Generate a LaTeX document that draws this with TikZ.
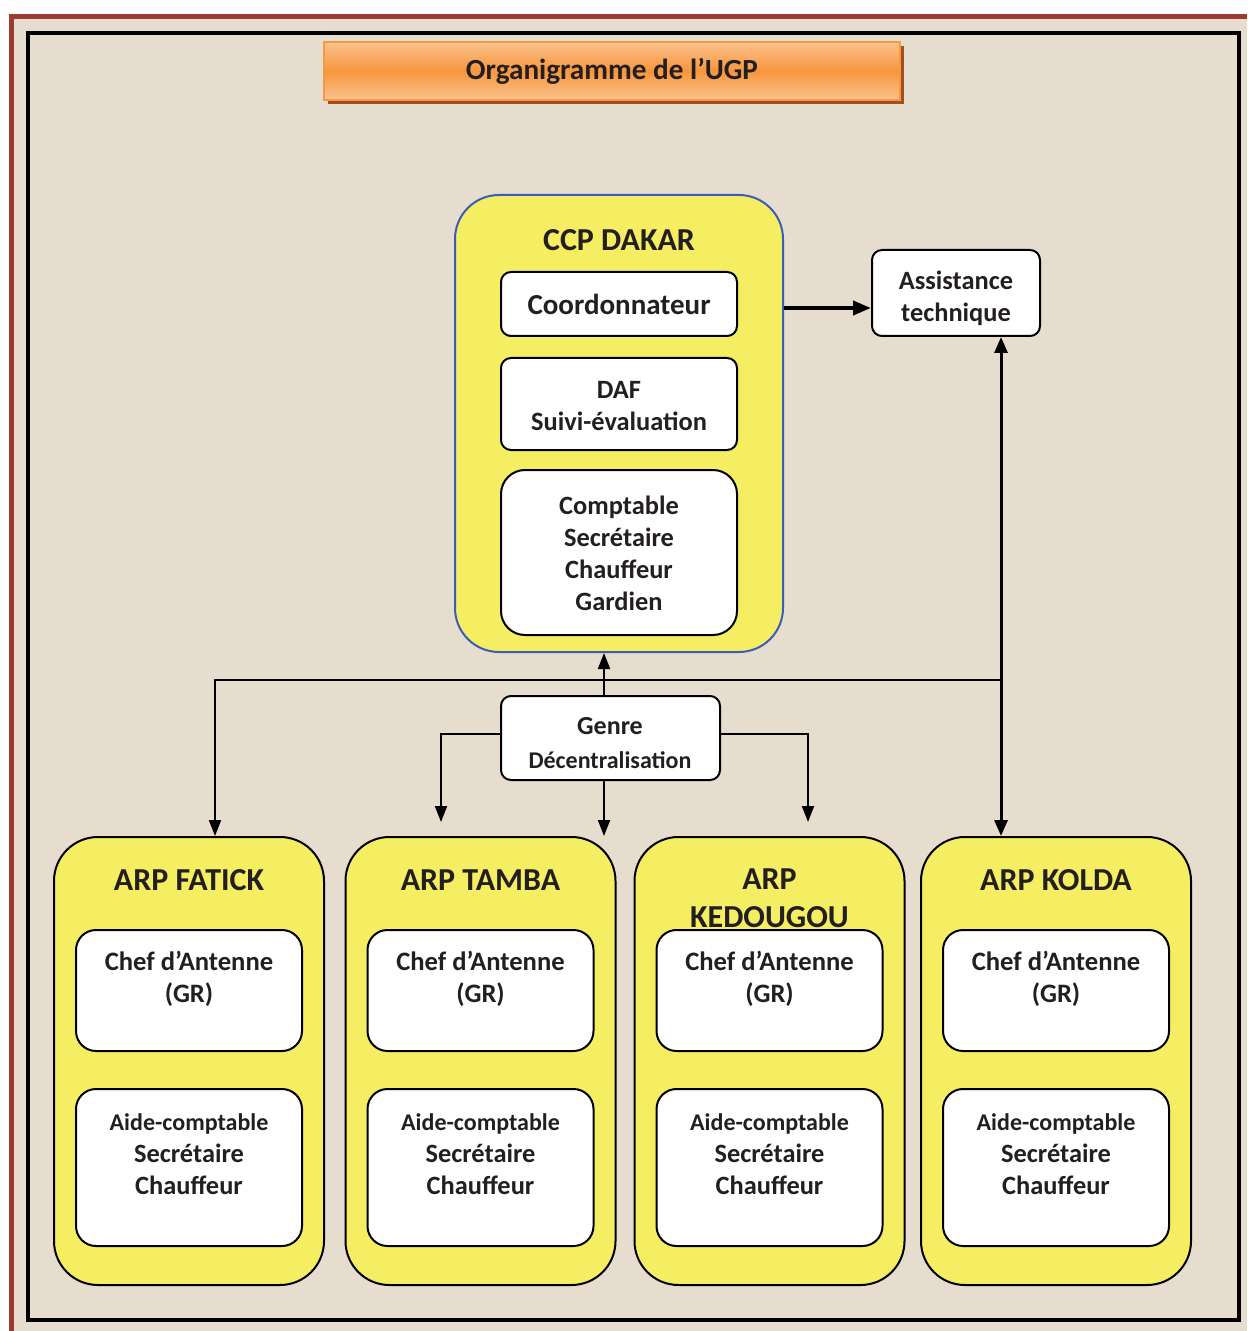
\documentclass[tikz,border=0pt]{standalone}
\usepackage{fontspec}
\setmainfont{Carlito}
\usetikzlibrary{arrows.meta,shadows}
\definecolor{bg}{HTML}{E6DDCE}
\definecolor{framered}{HTML}{9E3A34}
\definecolor{yel}{HTML}{F6EE62}
\definecolor{ccpblue}{HTML}{3C5DB5}
\definecolor{txt}{HTML}{231F20}
\definecolor{orA}{HTML}{F7963C}
\definecolor{orB}{HTML}{FBC28E}
\definecolor{orBorder}{HTML}{F59A44}
\definecolor{shadowbrown}{HTML}{A24E1E}
\newcommand{\fs}[2]{\fontsize{#1}{#2}\selectfont}
\tikzset{
  wbox/.style={draw=black, fill=white, line width=1pt, rounded corners=5pt, inner sep=0pt},
  arpbox/.style={draw=black, fill=yel, line width=1pt, rounded corners=22pt,
                 minimum width=135pt, minimum height=224pt, inner sep=0pt},
  chefbox/.style={wbox, rounded corners=10pt, minimum width=113pt, minimum height=60.5pt},
  aidebox/.style={wbox, rounded corners=10pt, minimum width=113pt, minimum height=78.5pt},
  lbl/.style={text=txt, font=\bfseries\fs{13.2}{16}, align=center, inner sep=0pt},
  hdr/.style={text=txt, font=\bfseries\fs{16}{19}, align=center, inner sep=0pt},
  thinarrow/.style={line width=1pt, -{Triangle[length=8pt,width=6pt]}},
  thinline/.style={line width=1pt},
}
\begin{document}
\begin{tikzpicture}[x=0.5pt,y=-0.5pt]
\useasboundingbox (0,0) rectangle (1247,1331);
\fill[white] (0,0) rectangle (1247,1331);
\fill[framered] (9,14) rectangle (1247,1331);
\fill[bg] (14,19) rectangle (1247,1331);
\draw[line width=2pt] (28,33) rectangle (1239,1320);

% title
\node[minimum width=288pt, minimum height=29pt, inner sep=0pt,
      draw=orBorder, line width=1pt,
      top color=orB, bottom color=orB, middle color=orA,
      drop shadow={shadow xshift=2pt, shadow yshift=-2pt, fill=shadowbrown, opacity=1},
      text=txt, font=\bfseries\fs{14.6}{17}] (title) at (612,71) {Organigramme de l’UGP};

% CCP DAKAR
\node[draw=ccpblue, fill=yel, line width=1pt, rounded corners=22pt,
      minimum width=164pt, minimum height=228.5pt, inner sep=0pt] (ccp) at (619,423.5) {};
\node[hdr] (ccpT) at (619,240) {CCP DAKAR};
\node[wbox, minimum width=118pt, minimum height=32pt, text=txt,
      font=\bfseries\fs{14.5}{17}] (coord) at (619,304) {Coordonnateur};
\node[wbox, minimum width=118pt, minimum height=46pt] (daf) at (619,404) {};
\node[lbl] (dafT) at (619,406) {DAF\\Suivi-évaluation};
\node[wbox, rounded corners=12pt, minimum width=118pt, minimum height=82.5pt] (comp) at (619,552.5) {};
\node[lbl] (compT) at (619,553) {Comptable\\Secrétaire\\Chauffeur\\Gardien};

% Assistance
\node[wbox, minimum width=84pt, minimum height=43pt] (assist) at (956,293) {};
\node[lbl] (assistT) at (956,298) {Assistance\\technique};

% Genre
\node[wbox, minimum width=109.5pt, minimum height=42pt] (genre) at (610.5,738) {};
\node[lbl, font=\bfseries\fs{13}{16.5}] (genreT) at (610,726) {Genre};
\node[lbl, font=\bfseries\fs{12}{16.5}] (decT) at (610,760) {Décentralisation};

% ARP boxes
\foreach \n/\cx in {fatick/189, tamba/480.5, kedougou/769.5, kolda/1056}{
  \node[arpbox] (\n) at (\cx,1061) {};
  \node[chefbox] (\n chef) at (\cx,990.5) {};
  \node[lbl, font=\bfseries\fs{13.3}{16}] (\n chefT) at (\cx,979) {Chef d’Antenne\\(GR)};
  \node[aidebox] (\n aide) at (\cx,1167.5) {};
  \node[lbl] (\n aideT) at (\cx,1154) {{\fs{12}{16}Aide-comptable}\\Secrétaire\\Chauffeur};
}
\node[hdr] (fatickT) at (189,880) {ARP FATICK};
\node[hdr] (tambaT) at (480.5,880) {ARP TAMBA};
\node[hdr] (kedougouT) at (769.5,898) {ARP\\KEDOUGOU};
\node[hdr] (koldaT) at (1056,880) {ARP KOLDA};

% connectors
\draw[line width=2pt, -{Triangle[length=9pt,width=7pt]}] (ccp.east |- 0,308) -- (assist.west |- 0,308);
\draw[line width=1.5pt, {Triangle[length=8pt,width=6.5pt]}-{Triangle[length=8pt,width=6.5pt]}]
  (assist.south -| 1001,0) -- (kolda.north -| 1001,0);
\coordinate (hj) at (1001,680);
\coordinate (hl) at (215,680);
\draw[thinarrow] (hj) -- (hl) -- (fatick.north -| hl);
\draw[thinarrow] (genre.north -| 604,0) -- (ccp.south -| 604,0);
\coordinate (tl) at (441,822);
\coordinate (tr) at (808,822);
\draw[thinarrow] (genre.west |- 0,734) -| (tl);
\draw[thinarrow] (genre.east |- 0,734) -| (tr);
\draw[thinarrow] (genre.south -| 604,0) -- (tamba.north -| 604,0);
\end{tikzpicture}
\end{document}
